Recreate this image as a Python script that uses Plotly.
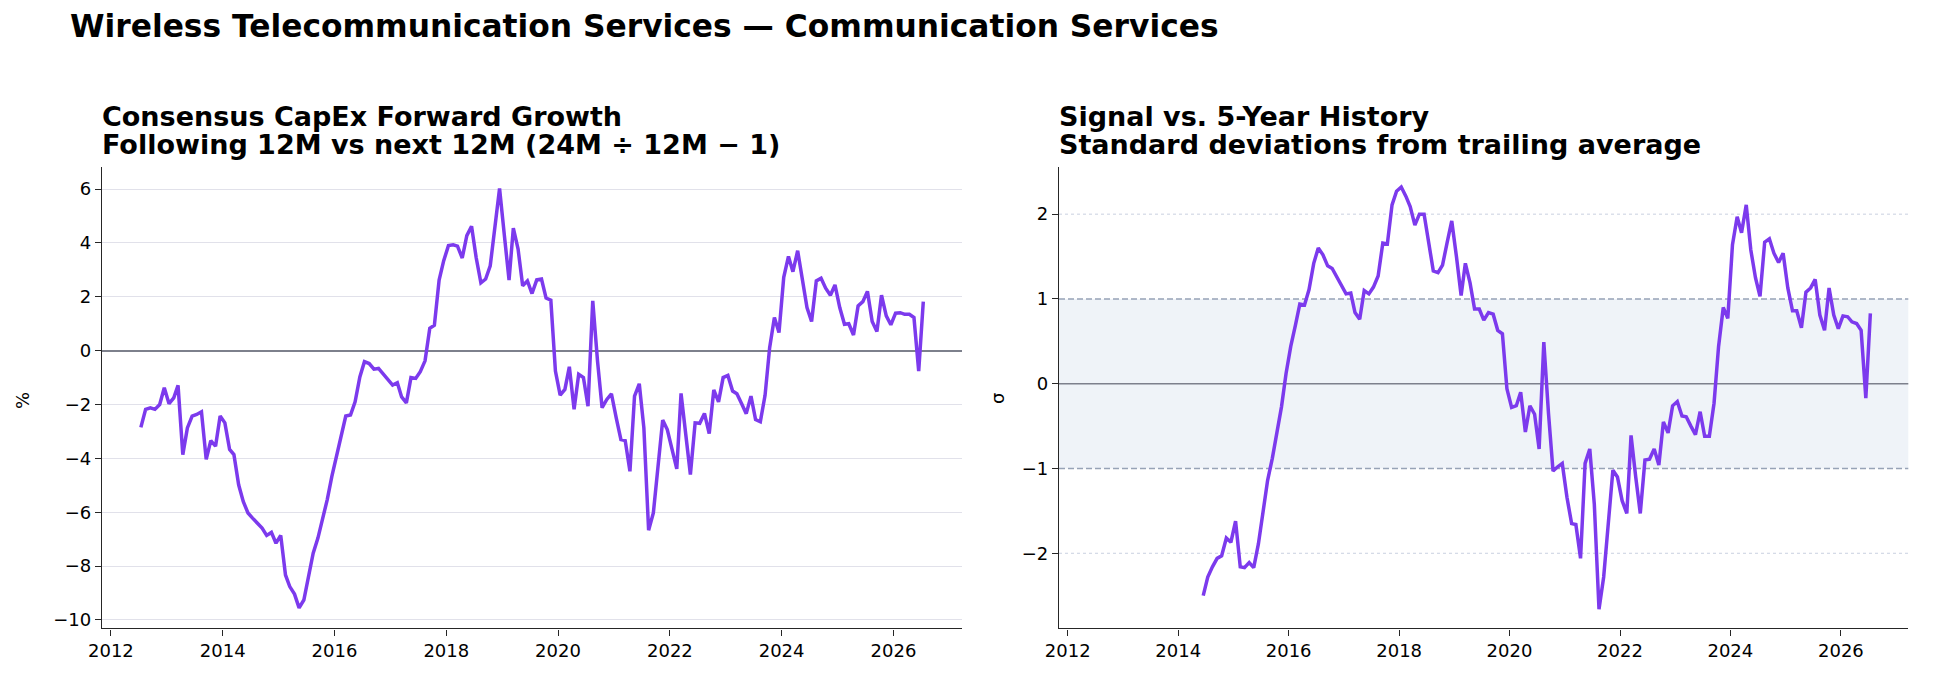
import pandas as pd
import plotly.graph_objects as go

W, H = 1934, 679

# ---------------- data ----------------
capex_growth = [
    -2.85, -2.18, -2.12, -2.18, -2.00, -1.38, -1.97, -1.75, -1.29, -3.86,
    -2.87, -2.43, -2.37, -2.27, -4.04, -3.34, -3.55, -2.43, -2.68, -3.67,
    -3.86, -4.98, -5.60, -6.03, -6.22, -6.40, -6.59, -6.86, -6.75, -7.15,
    -6.86, -8.33, -8.76, -9.04, -9.55, -9.26, -8.39, -7.52, -6.96, -6.28,
    -5.53, -4.67, -3.86, -3.11, -2.43, -2.39, -1.90, -0.98, -0.41, -0.48,
    -0.69, -0.66, -0.86, -1.07, -1.28, -1.19, -1.72, -1.94, -1.00, -1.03,
    -0.78, -0.38, 0.83, 0.94, 2.62, 3.34, 3.90, 3.93, 3.88, 3.44,
    4.27, 4.62, 3.46, 2.52, 2.66, 3.15, 4.58, 6.02, 4.30, 2.62,
    4.55, 3.77, 2.41, 2.59, 2.12, 2.63, 2.66, 1.95, 1.87, -0.76,
    -1.65, -1.44, -0.60, -2.18, -0.88, -1.00, -2.06, 1.85, -0.38, -2.12,
    -1.81, -1.60, -2.49, -3.30, -3.34, -4.48, -1.69, -1.23, -2.87, -6.67,
    -6.03, -4.35, -2.58, -2.93, -3.67, -4.39, -1.59, -3.24, -4.60, -2.68,
    -2.70, -2.33, -3.08, -1.46, -1.90, -1.00, -0.92, -1.50, -1.60, -1.97,
    -2.34, -1.69, -2.56, -2.64, -1.66, 0.11, 1.23, 0.67, 2.72, 3.50,
    2.93, 3.71, 2.66, 1.60, 1.08, 2.59, 2.69, 2.32, 2.06, 2.44,
    1.60, 0.98, 1.00, 0.58, 1.66, 1.82, 2.20, 1.08, 0.71, 2.06,
    1.29, 0.96, 1.39, 1.41, 1.35, 1.35, 1.23, -0.76, 1.82,
]
capex_start = "2012-07-01"

zscore = [
    -2.50, -2.28, -2.16, -2.06, -2.03, -1.82, -1.87, -1.62, -2.16, -2.17,
    -2.11, -2.17, -1.89, -1.50, -1.14, -0.88, -0.59, -0.27, 0.12, 0.44,
    0.69, 0.94, 0.93, 1.11, 1.42, 1.60, 1.52, 1.39, 1.36, 1.26,
    1.16, 1.06, 1.07, 0.84, 0.76, 1.10, 1.06, 1.14, 1.27, 1.66,
    1.65, 2.11, 2.27, 2.32, 2.21, 2.09, 1.87, 2.00, 2.00, 1.64,
    1.33, 1.31, 1.40, 1.67, 1.92, 1.50, 1.04, 1.42, 1.19, 0.88,
    0.88, 0.75, 0.84, 0.82, 0.63, 0.59, -0.06, -0.28, -0.26, -0.10,
    -0.57, -0.26, -0.36, -0.77, 0.49, -0.35, -1.03, -0.98, -0.94, -1.34,
    -1.65, -1.66, -2.06, -0.94, -0.77, -1.42, -2.66, -2.28, -1.63, -1.02,
    -1.10, -1.38, -1.53, -0.61, -1.10, -1.53, -0.90, -0.89, -0.77, -0.96,
    -0.45, -0.58, -0.26, -0.21, -0.38, -0.39, -0.50, -0.60, -0.33, -0.62,
    -0.62, -0.23, 0.44, 0.90, 0.77, 1.64, 1.97, 1.78, 2.11, 1.58,
    1.25, 1.03, 1.67, 1.71, 1.54, 1.43, 1.54, 1.13, 0.86, 0.86,
    0.66, 1.08, 1.13, 1.23, 0.81, 0.63, 1.13, 0.81, 0.65, 0.80,
    0.79, 0.73, 0.71, 0.63, -0.17, 0.83,
]
zscore_start = "2014-06-01"

left_yticks = [-10, -8, -6, -4, -2, 0, 2, 4, 6]
right_yticks = [-2, -1, 0, 1, 2]
year_ticks = [2012, 2014, 2016, 2018, 2020, 2022, 2024, 2026]

main_title = "Wireless Telecommunication Services \u2014 Communication Services"
left_title = ["Consensus CapEx Forward Growth", "Following 12M vs next 12M (24M \u00f7 12M \u2212 1)"]
right_title = ["Signal vs. 5-Year History", "Standard deviations from trailing average"]

# ---------------- styling ----------------
FONT = "DejaVu Sans"
PURPLE = "#7c3aed"
SPINE = "#262626"
ZERO = "#7d808c"
GRID = "#e1e1ea"
BAND = "#eff3f8"
DASH = "#97a3b6"
DOT = "#c9d1e0"


def fx(p):
    return p / W


def fy(p):
    return 1 - p / H


def fmt(v):
    return ("\u2212" + str(abs(v))) if v < 0 else str(v)


dates_l = pd.date_range(capex_start, periods=len(capex_growth), freq="MS") + pd.Timedelta(days=14)
dates_r = pd.date_range(zscore_start, periods=len(zscore), freq="MS") + pd.Timedelta(days=14)
xrange_ = ["2011-11-04", "2027-03-23"]

fig = go.Figure()
fig.add_trace(go.Scatter(x=dates_l, y=capex_growth, mode="lines",
                         line=dict(color=PURPLE, width=3.5), xaxis="x", yaxis="y",
                         showlegend=False))
fig.add_trace(go.Scatter(x=dates_r, y=zscore, mode="lines",
                         line=dict(color=PURPLE, width=3.5), xaxis="x2", yaxis="y2",
                         showlegend=False))

xdom1 = [fx(102), fx(961.7)]
xdom2 = [fx(1059), fx(1908.3)]
ydom = [fy(628.3), fy(166.7)]

tickfont = dict(family=FONT, size=18, color="black")
xcommon = dict(type="date", range=xrange_, tickvals=[f"{y}-01-01" for y in year_ticks],
               ticktext=[str(y) for y in year_ticks], showgrid=False, zeroline=False,
               showline=True, linecolor=SPINE, linewidth=1.4, ticks="outside",
               ticklen=6, tickwidth=1.4, tickcolor=SPINE, tickfont=tickfont,
               automargin=False)

fig.update_layout(
    width=W, height=H, margin=dict(l=0, r=0, t=0, b=0),
    paper_bgcolor="white", plot_bgcolor="white",
    xaxis=dict(domain=xdom1, anchor="y", **xcommon),
    xaxis2=dict(domain=xdom2, anchor="y2", **xcommon),
    yaxis=dict(domain=ydom, anchor="x", range=[-10.31, 6.83], tickvals=left_yticks,
               ticktext=[fmt(v) for v in left_yticks], showgrid=True, gridcolor=GRID,
               gridwidth=1, zeroline=True, zerolinecolor=ZERO, zerolinewidth=1.6,
               showline=True, linecolor=SPINE, linewidth=1.4,
               ticks="outside", ticklen=6, tickwidth=1.4, tickcolor=SPINE,
               tickfont=tickfont, automargin=False),
    yaxis2=dict(domain=ydom, anchor="x2", range=[-2.885, 2.56], tickvals=right_yticks,
                ticktext=[fmt(v) for v in right_yticks], showgrid=False, zeroline=False,
                showline=True, linecolor=SPINE, linewidth=1.4, ticks="outside",
                ticklen=6, tickwidth=1.4, tickcolor=SPINE, tickfont=tickfont,
                automargin=False),
)

shapes = [
    dict(type="rect", xref="x2 domain", yref="y2", x0=0, x1=1, y0=-1, y1=1,
         fillcolor=BAND, line=dict(width=0), layer="below"),
    dict(type="line", xref="x2 domain", yref="y2", x0=0, x1=1, y0=2, y1=2,
         line=dict(color=DOT, width=1, dash="dot"), layer="below"),
    dict(type="line", xref="x2 domain", yref="y2", x0=0, x1=1, y0=-2, y1=-2,
         line=dict(color=DOT, width=1, dash="dot"), layer="below"),
    dict(type="line", xref="x2 domain", yref="y2", x0=0, x1=1, y0=1, y1=1,
         line=dict(color=DASH, width=1.4, dash="6px,3px"), layer="below"),
    dict(type="line", xref="x2 domain", yref="y2", x0=0, x1=1, y0=-1, y1=-1,
         line=dict(color=DASH, width=1.4, dash="6px,3px"), layer="below"),
    dict(type="line", xref="x2 domain", yref="y2", x0=0, x1=1, y0=0, y1=0,
         line=dict(color=ZERO, width=1.6), layer="below"),
]
fig.update_layout(shapes=shapes)

ann = []
ann.append(dict(text=f"<b>{main_title}</b>", x=fx(69), y=fy(26.4), xref="paper", yref="paper",
                xanchor="left", yanchor="middle", showarrow=False, borderpad=0,
                font=dict(family=FONT, size=31.3, color="black")))
for x0, lines in ((101, left_title), (1058, right_title)):
    for ycen, t in zip((116.7, 144.4), lines):
        ann.append(dict(text=f"<b>{t}</b>", x=fx(x0), y=fy(ycen), xref="paper", yref="paper",
                        xanchor="left", yanchor="middle", showarrow=False, borderpad=0,
                        font=dict(family=FONT, size=27, color="black")))
ann.append(dict(text="%", x=fx(22), y=fy(401), xref="paper", yref="paper", textangle=-90,
                xanchor="center", yanchor="middle", showarrow=False,
                font=dict(family=FONT, size=18, color="black")))
ann.append(dict(text="\u03c3", x=fx(997), y=fy(399), xref="paper", yref="paper", textangle=-90,
                xanchor="center", yanchor="middle", showarrow=False,
                font=dict(family=FONT, size=18, color="black")))
fig.update_layout(annotations=ann)

fig.write_html("out.html")
